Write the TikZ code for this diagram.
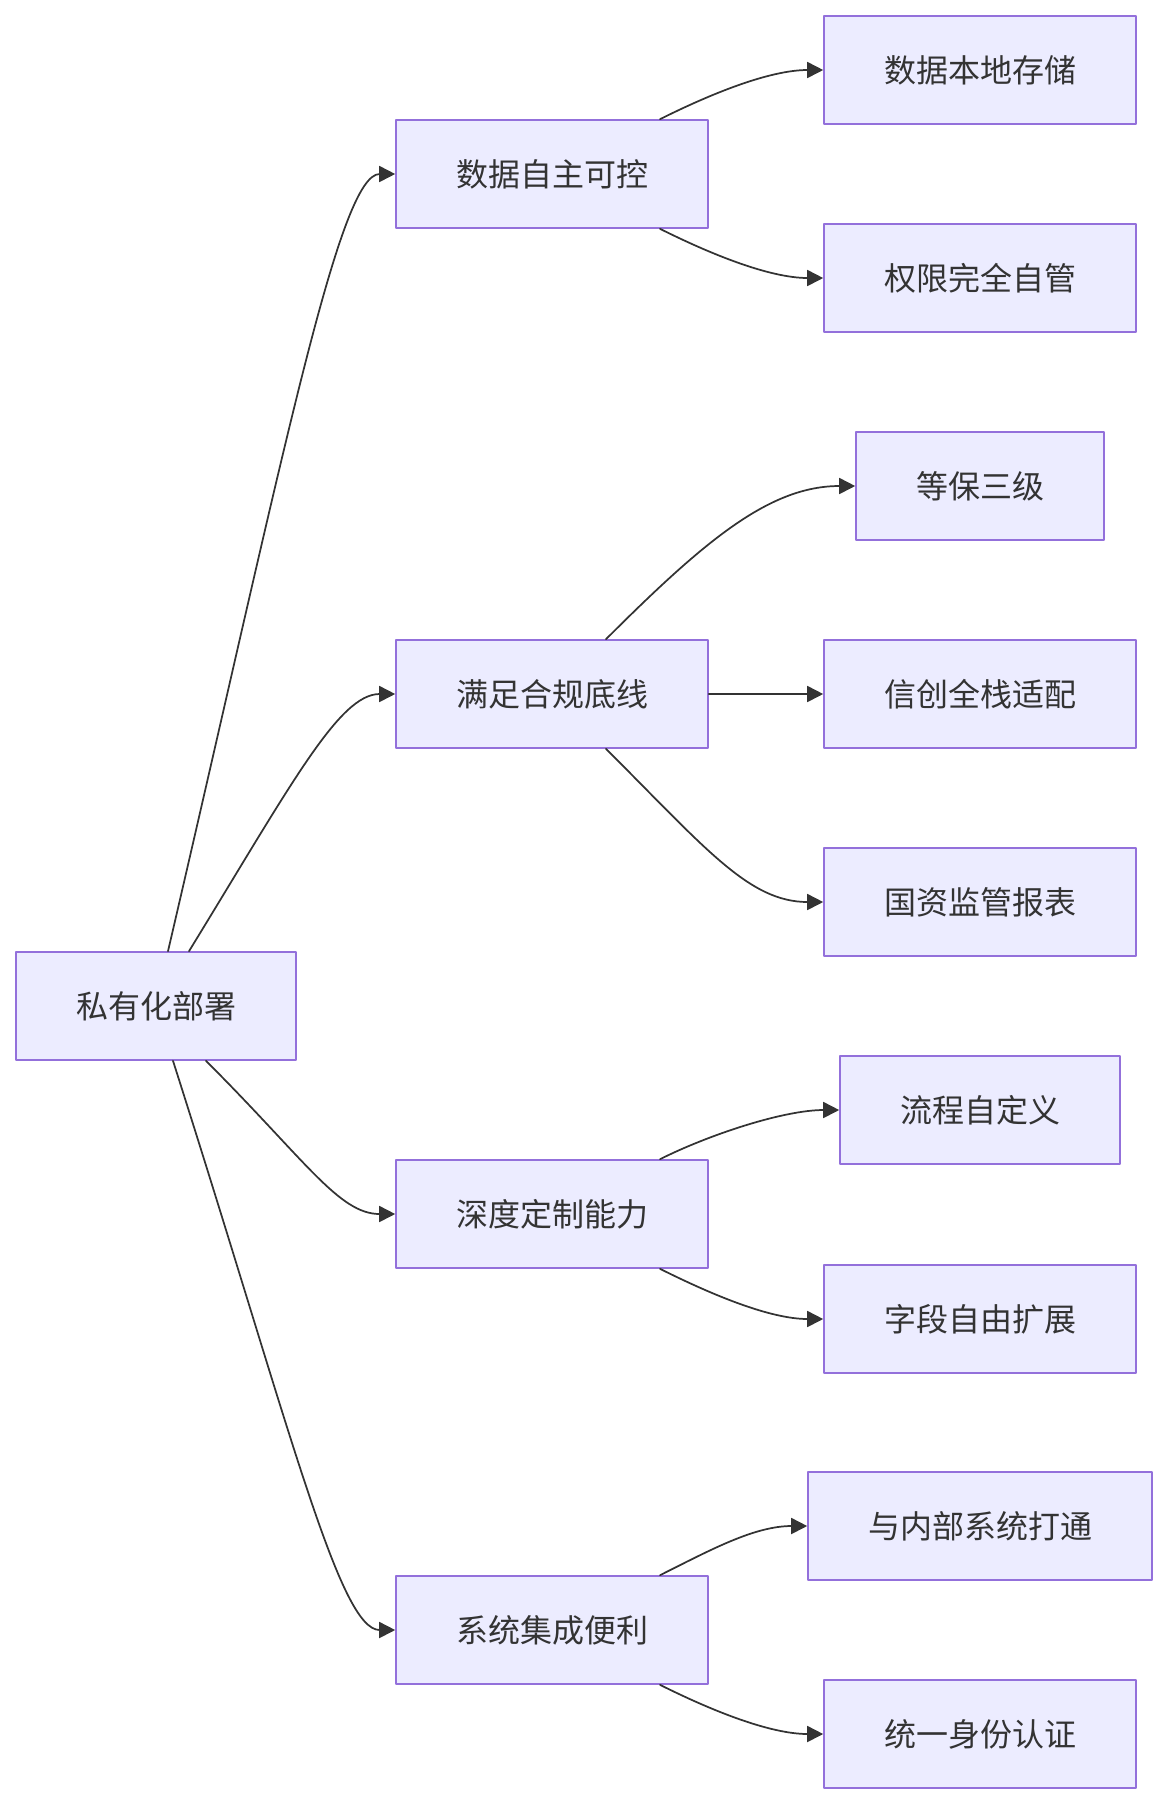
\documentclass[tikz,border=0pt]{standalone}
\usepackage{fontspec}
\setmainfont{Noto Sans CJK SC}
\usetikzlibrary{arrows.meta,calc}
\definecolor{boxfill}{HTML}{ECECFF}
\definecolor{boxline}{HTML}{9370DB}
\definecolor{ink}{HTML}{333333}
\begin{document}
\begin{tikzpicture}[x=.75pt,y=-.75pt,line cap=round,line join=round]
  \tikzset{item/.style={rectangle,draw=boxline,fill=boxfill,line width=1.2pt,text=ink,font=\fontsize{24}{28}\selectfont,minimum height=81pt,inner xsep=45pt,inner ysep=0pt},
    link/.style={draw=ink,line width=1.3pt,-{Triangle[length=12pt,width=12pt]}}}
  \useasboundingbox (0,0) rectangle (1168,1804);
  \node[item] (deploy) at (156,1006) {私有化部署};
  \node[item] (data) at (552,174) {数据自主可控};
  \node[item] (comply) at (552,694) {满足合规底线};
  \node[item] (custom) at (552,1214) {深度定制能力};
  \node[item] (integ) at (552,1630) {系统集成便利};
  \node[item] (local) at (980,70) {数据本地存储};
  \node[item] (perm) at (980,278) {权限完全自管};
  \node[item] (mlps) at (980,486) {等保三级};
  \node[item] (xinchuang) at (980,694) {信创全栈适配};
  \node[item] (report) at (980,902) {国资监管报表};
  \node[item] (flow) at (980,1110) {流程自定义};
  \node[item] (field) at (980,1319) {字段自由扩展};
  \node[item] (inner) at (980,1526) {与内部系统打通};
  \node[item] (sso) at (980,1734) {统一身份认证};
  % root to first level
  \draw[link] ($(deploy.north)+(12,0)$) .. controls +(117,-503) and +(-56,0) .. (data.west);
  \draw[link] ($(deploy.north)+(33,0)$) .. controls +(103,-168) and +(-56,0) .. (comply.west);
  \draw[link] ($(deploy.south)+(50,0)$) .. controls +(100,100) and +(-56,0) .. (custom.west);
  \draw[link] ($(deploy.south)+(17,0)$) .. controls +(118,370) and +(-56,0) .. (integ.west);
  % first level to leaves
  \draw[link] ($(data.north)+(108,0)$) .. controls +(50,-25) and +(-54,0) .. (local.west);
  \draw[link] ($(data.south)+(108,0)$) .. controls +(50,25) and +(-54,0) .. (perm.west);
  \draw[link] ($(comply.north)+(54,0)$) .. controls +(100,-100) and +(-85,0) .. (mlps.west);
  \draw[link] (comply.east) -- (xinchuang.west);
  \draw[link] ($(comply.south)+(54,0)$) .. controls +(100,100) and +(-74,0) .. (report.west);
  \draw[link] ($(custom.north)+(108,0)$) .. controls +(50,-25) and +(-55,0) .. (flow.west);
  \draw[link] ($(custom.south)+(108,0)$) .. controls +(50,25) and +(-54,0) .. (field.west);
  \draw[link] ($(integ.north)+(108,0)$) .. controls +(50,-25) and +(-53,0) .. (inner.west);
  \draw[link] ($(integ.south)+(108,0)$) .. controls +(50,25) and +(-54,0) .. (sso.west);
\end{tikzpicture}
\end{document}
